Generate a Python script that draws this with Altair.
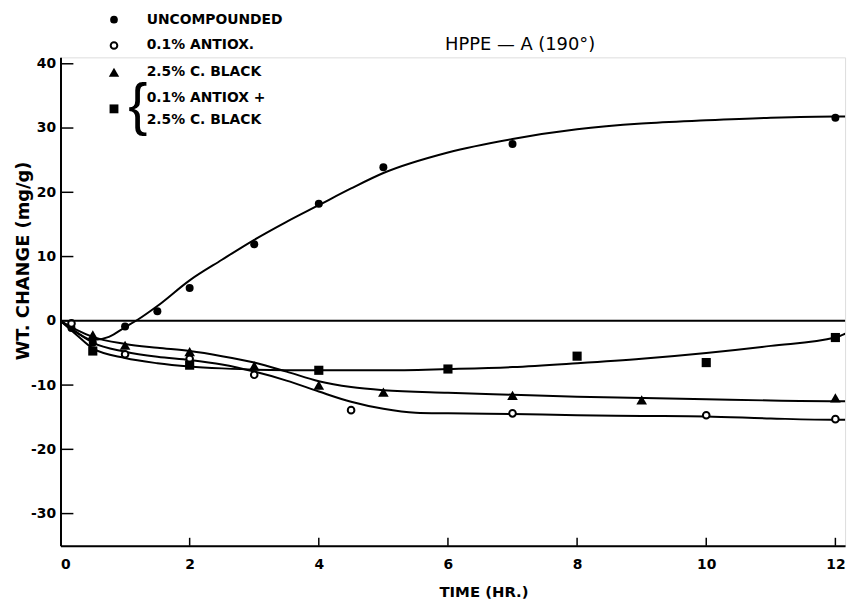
import altair as alt
import pandas as pd

# ---------------- data ----------------
# measured points
unc_x = [0.17, 0.5, 1.0, 1.5, 2.0, 3.0, 4.0, 5.0, 7.0, 12.0]
unc_y = [-1.1, -3.4, -0.9, 1.5, 5.1, 11.9, 18.2, 23.9, 27.5, 31.6]

ant_x = [0.17, 1.0, 2.0, 3.0, 4.5, 7.0, 10.0, 12.0]
ant_y = [-0.4, -5.2, -5.9, -8.4, -13.9, -14.4, -14.7, -15.3]

blk_x = [0.5, 1.0, 2.0, 3.0, 4.0, 5.0, 7.0, 9.0, 12.0]
blk_y = [-2.2, -3.8, -4.8, -7.0, -10.0, -11.1, -11.6, -12.3, -12.0]

cmb_x = [0.5, 2.0, 4.0, 6.0, 8.0, 10.0, 12.0]
cmb_y = [-4.7, -6.9, -7.7, -7.5, -5.5, -6.5, -2.6]

# hand-drawn smooth curves
unc_cx = [0, 0.25, 0.5, 0.75, 1.0, 1.2, 1.5, 2.0, 2.5, 3.0, 3.5, 4.0, 4.5, 5.0, 6.0, 7.0, 8.0, 9.0, 10.0, 11.0, 12.0, 12.2]
unc_cy = [0, -1.8, -3.0, -2.5, -1.0, 0.2, 2.3, 6.3, 9.5, 12.6, 15.4, 18.0, 20.6, 23.0, 26.2, 28.3, 29.8, 30.7, 31.2, 31.6, 31.8, 31.8]

ant_cx = [0, 0.25, 0.5, 1.0, 1.5, 2.0, 2.5, 3.0, 3.5, 4.0, 4.5, 5.0, 5.5, 6.0, 7.0, 8.0, 9.0, 10.0, 11.0, 12.0, 12.2]
ant_cy = [0, -1.8, -3.4, -4.8, -5.6, -6.1, -6.8, -7.9, -9.3, -11.0, -12.6, -13.7, -14.3, -14.4, -14.5, -14.7, -14.8, -14.9, -15.2, -15.4, -15.4]

blk_cx = [0, 0.25, 0.5, 1.0, 1.5, 2.0, 2.5, 3.0, 3.5, 4.0, 4.5, 5.0, 6.0, 7.0, 8.0, 9.0, 10.0, 11.0, 12.0, 12.2]
blk_cy = [0, -1.4, -2.5, -3.6, -4.2, -4.7, -5.5, -6.5, -7.9, -9.4, -10.3, -10.8, -11.2, -11.5, -11.8, -12.0, -12.2, -12.4, -12.5, -12.5]

cmb_cx = [0, 0.25, 0.5, 1.0, 1.5, 2.0, 2.5, 3.0, 4.0, 5.0, 6.0, 7.0, 8.0, 9.0, 10.0, 11.0, 12.0, 12.2]
cmb_cy = [0, -2.2, -4.3, -5.8, -6.6, -7.1, -7.4, -7.6, -7.7, -7.7, -7.5, -7.2, -6.6, -5.9, -5.0, -3.9, -2.6, -1.8]

x_ticks = [0, 2, 4, 6, 8, 10, 12]
y_ticks = [-30, -20, -10, 0, 10, 20, 30, 40]

legend_labels = ["UNCOMPOUNDED", "0.1% ANTIOX.", "2.5% C. BLACK", "0.1% ANTIOX +", "2.5% C. BLACK"]
title_text = "HPPE — A  (190°)"

FONT = "DejaVu Sans"
W, H = 792, 493
xs = alt.Scale(domain=[0, 12.15], nice=False, zero=False)
ys = alt.Scale(domain=[-35, 41], nice=False, zero=False)

x_axis = alt.Axis(values=x_ticks, ticks=False, grid=False, domainColor="black", domainWidth=2,
                  labelFont=FONT, labelFontWeight="bold", labelFontSize=14, labelColor="black",
                  labelExpr="toString(datum.value)",
                  labelPadding=12, title="TIME   (HR.)", titleFont=FONT, titleFontWeight="bold",
                  titleFontSize=15, titleColor="black", titleX=427, titleY=46, titleBaseline="middle")
y_axis = alt.Axis(values=y_ticks, ticks=False, grid=False, domainColor="black", domainWidth=2,
                  labelFont=FONT, labelFontWeight="bold", labelFontSize=14, labelColor="black",
                  labelPadding=5, labelExpr="toString(datum.value)",
                  title="WT. CHANGE (mg/g)", titleFont=FONT, titleFontWeight="bold",
                  titleFontSize=18, titleColor="black", titleX=-37, titleY=205,
                  titleBaseline="middle", titleAngle=270)


def curve_df(xv, yv):
    return pd.DataFrame({"x": xv, "y": yv})


curves = []
for cx, cy in [(unc_cx, unc_cy), (ant_cx, ant_cy), (blk_cx, blk_cy), (cmb_cx, cmb_cy)]:
    curves.append(
        alt.Chart(curve_df(cx, cy)).mark_line(interpolate="monotone", color="black", strokeWidth=2, clip=True)
        .encode(x=alt.X("x:Q", scale=xs, axis=x_axis), y=alt.Y("y:Q", scale=ys, axis=y_axis))
    )

zero_line = alt.Chart(pd.DataFrame({"y": [0]})).mark_rule(color="black", strokeWidth=2).encode(
    y=alt.Y("y:Q", scale=ys)
)

pts = []
specs = [
    (unc_x, unc_y, dict(shape="circle", filled=True, size=65, color="black", opacity=1)),
    (ant_x, ant_y, dict(shape="circle", filled=False, size=45, color="black", strokeWidth=2, opacity=1)),
    (blk_x, blk_y, dict(shape="triangle-up", filled=True, size=115, color="black", opacity=1)),
    (cmb_x, cmb_y, dict(shape="square", filled=True, size=85, color="black", opacity=1)),
]
for px, py, kw in specs:
    d = pd.DataFrame({"x": px, "y": py})
    fill = "black" if kw.get("filled") else "white"
    pts.append(alt.Chart(d).mark_point(fill=fill, **kw).encode(
        x=alt.X("x:Q", scale=xs), y=alt.Y("y:Q", scale=ys)))

# inward tick marks
xt = alt.Chart(pd.DataFrame({"x": x_ticks[1:]})).mark_rule(color="black", strokeWidth=1.5).encode(
    x=alt.X("x:Q", scale=xs), y=alt.value(H), y2=alt.value(H - 8))
yt = alt.Chart(pd.DataFrame({"y": y_ticks})).mark_rule(color="black", strokeWidth=1.5).encode(
    y=alt.Y("y:Q", scale=ys), x=alt.value(0), x2=alt.value(13))

# hand-made legend
one = pd.DataFrame({"a": [0]})
leg = []
marker_rows = [(-38, "circle", True, 60), (-12, "circle", False, 45), (15, "triangle-up", True, 110), (52, "square", True, 80)]
for yy, shp, fl, sz in marker_rows:
    leg.append(alt.Chart(one).mark_point(shape=shp, filled=fl, size=sz, color="black", opacity=1,
                                         fill="black" if fl else "white", strokeWidth=2)
               .encode(x=alt.value(54), y=alt.value(yy)))
text_rows = [(-38, 0), (-12, 1), (15, 2), (41, 3), (63, 4)]
for yy, i in text_rows:
    leg.append(alt.Chart(one).mark_text(text=legend_labels[i], align="left", baseline="middle",
                                        font=FONT, fontWeight="bold", fontSize=14, color="black")
               .encode(x=alt.value(87), y=alt.value(yy)))
leg.append(alt.Chart(one).mark_text(text="{", align="center", baseline="middle", font="Liberation Sans",
                                    fontSize=58, color="black")
           .encode(x=alt.value(78), y=alt.value(50)))
title = alt.Chart(one).mark_text(text=title_text, align="center", baseline="middle", font=FONT,
                                 fontSize=18, color="black").encode(x=alt.value(464), y=alt.value(-12))

chart = alt.layer(zero_line, *curves, *pts, xt, yt, *leg, title).properties(
    width=W, height=H, autosize="none",
    padding={"left": 53, "top": 47, "right": 8, "bottom": 55},
).configure_view(stroke=None).configure(background="white")

chart.save("out.html", embed_options={"renderer": "svg", "actions": False})
